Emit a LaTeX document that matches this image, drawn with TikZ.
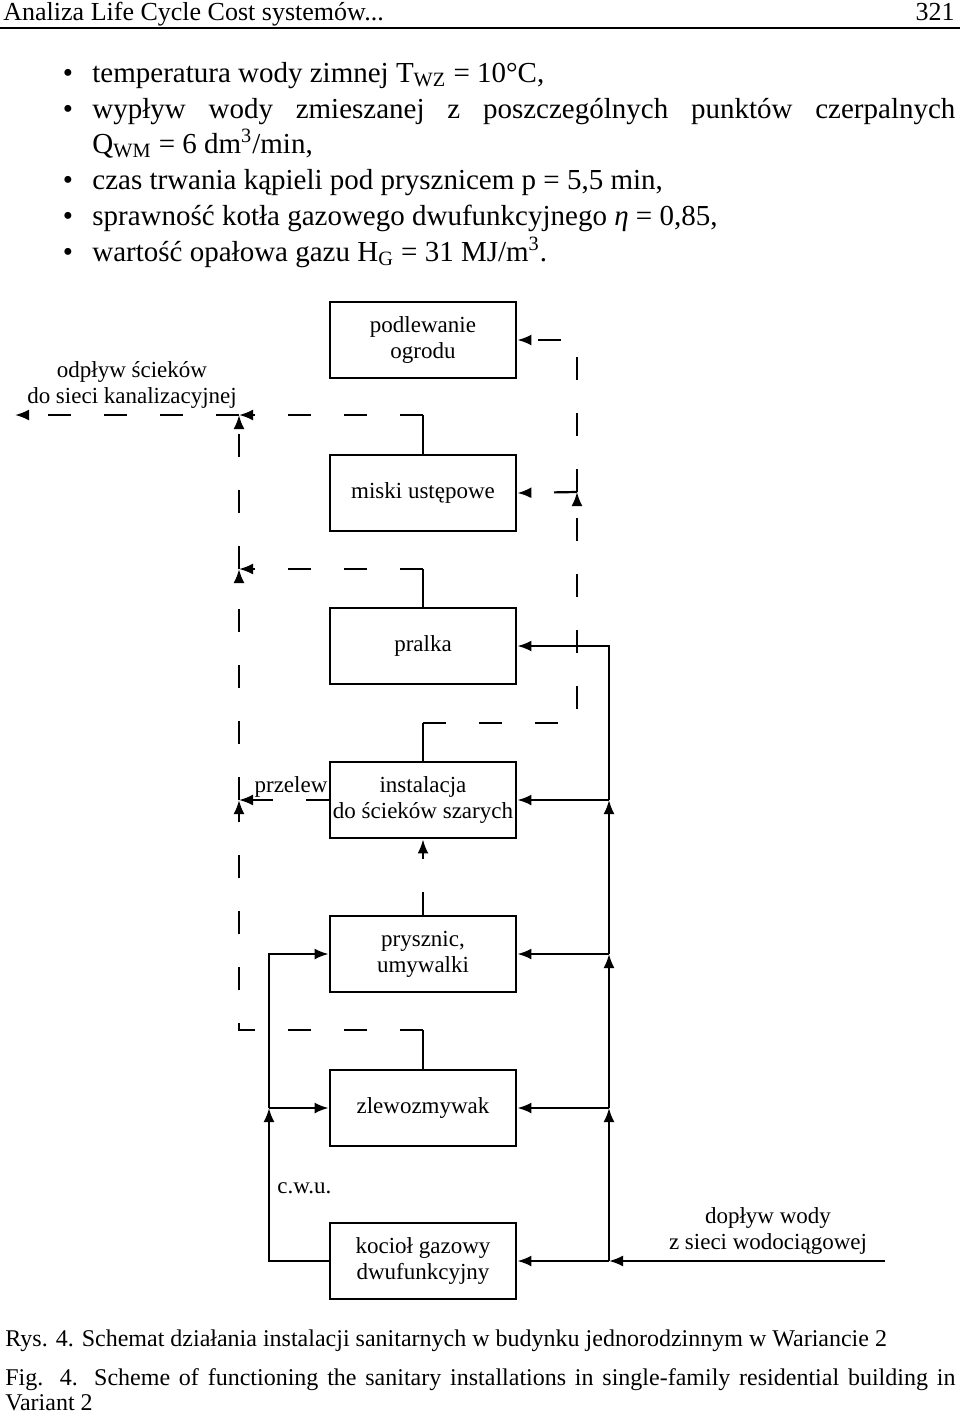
\documentclass[tikz,border=0pt]{standalone}
\usepackage{fontspec}
\setmainfont{Liberation Serif}
\usetikzlibrary{arrows.meta,positioning,calc}

\begin{document}
\begin{tikzpicture}[x=0.5pt,y=-0.5pt,
		blok/.style={draw,line width=1.4pt,minimum width=93pt,minimum height=38pt,inner sep=0pt,align=center,font=\fontsize{11.5}{13}\selectfont},
		rura/.style={line width=1.1pt,-{Latex[length=7pt,width=5.5pt]}},
		stub/.style={line width=1.1pt},
		scieki/.style={line width=1.1pt,dash pattern=on 11.5pt off 16.5pt,-{Latex[length=7pt,width=5.5pt]}},
		opis/.style={align=center,font=\fontsize{11.5}{13}\selectfont},
		tekst/.style={inner sep=0pt,font=\fontsize{14.5}{17.5}\selectfont},
		podpis/.style={inner sep=0pt,font=\fontsize{12}{12.5}\selectfont}]
		\useasboundingbox (0,0) rectangle (960,1414);
		% naglowek strony
		\node[tekst,anchor=base west,font=\fontsize{13}{15}\selectfont] (naglowek) at (3,20) {Analiza Life Cycle Cost systemów...};
		\node[tekst,anchor=base east,font=\fontsize{13}{15}\selectfont] (strona) at (955,20) {321};
		\draw[line width=1pt] (0,28) -- (960,28);
		% zalozenia
		\foreach \y in {82,118,189,225,261}
			\node[tekst,anchor=base] (kropka\y) at (68,\y) {\textbullet};
		\node[tekst,anchor=base west] (w1) at (92,82) {temperatura wody zimnej T\textsubscript{WZ} = 10°C,};
		\node[tekst,anchor=base west] (w2) at (92,118) {\makebox[431.5pt][s]{wypływ wody zmieszanej z poszczególnych punktów czerpalnych}};
		\node[tekst,anchor=base west] (w3) at (92,153) {Q\textsubscript{WM} = 6 dm\textsuperscript{3}/min,};
		\node[tekst,anchor=base west] (w4) at (92,189) {czas trwania kąpieli pod prysznicem p = 5,5 min,};
		\node[tekst,anchor=base west] (w5) at (92,225) {sprawność kotła gazowego dwufunkcyjnego \textit{η} = 0,85,};
		\node[tekst,anchor=base west] (w6) at (92,261) {wartość opałowa gazu H\textsubscript{G} = 31 MJ/m\textsuperscript{3}.};
		% skrzynki
		\node[blok] (podl) at (423,340) {podlewanie\\ogrodu};
		\node[blok] (miski) at (423,493) {miski ustępowe};
		\node[blok] (pralka) at (423,646) {pralka};
		\node[blok] (inst) at (423,800) {instalacja\\do ścieków szarych};
		\node[blok] (prysz) at (423,954) {prysznic,\\umywalki};
		\node[blok] (zlew) at (423,1108) {zlewozmywak};
		\node[blok] (kociol) at (423,1261) {kocioł gazowy\\dwufunkcyjny};
		% woda z wodociagu
		\coordinate (wej) at (885,1261);
		\coordinate (jk) at (609,1261);
		\coordinate (jz) at (609,1108);
		\coordinate (jp) at (609,954);
		\coordinate (ji) at (609,800);
		\draw[rura] (wej) -- (jk);
		\draw[rura] (jk) -- (kociol.east);
		\draw[rura] (jk) -- (jz);
		\draw[rura] (jz) -- (zlew.east);
		\draw[rura] (jz) -- (jp);
		\draw[rura] (jp) -- (prysz.east);
		\draw[rura] (jp) -- (ji);
		\draw[rura] (ji) -- (inst.east);
		\draw[rura] (ji) |- (pralka.east);
		\node[opis] (dopl) at (768,1231) {dopływ wody\\z sieci wodociągowej};
		% c.w.u.
		\coordinate (hz) at (269,1108);
		\draw[rura] (kociol.west) -| (hz);
		\draw[rura] (hz) -- (zlew.west);
		\draw[rura] (hz) |- (prysz.west);
		\node[opis,anchor=west,inner sep=0pt] (cwu) at (277,1188) {c.w.u.};
		% scieki szare
		\coordinate (is) at (423,723);
		\coordinate (pm) at (577,492);
		\draw[scieki] (prysz.north) -- (inst.south);
		\draw[stub] (inst.north) -- (is);
		\draw[scieki] (is) -| (pm);
		\draw[scieki] (pm) -- (miski.east);
		\draw[scieki] (pm) |- (podl.east);
		% odplyw do kanalizacji
		\coordinate (mk) at (423,415);
		\coordinate (pk) at (423,569);
		\coordinate (zk) at (423,1030);
		\coordinate (lm) at (239,415);
		\coordinate (lp) at (239,569);
		\coordinate (li) at (239,800);
		\coordinate (wyj) at (15,415);
		\draw[stub] (miski.north) -- (mk);
		\draw[scieki] (mk) -- (lm);
		\draw[stub] (pralka.north) -- (pk);
		\draw[scieki] (pk) -- (lp);
		\draw[stub] (zlew.north) -- (zk);
		\draw[scieki] (zk) -| (li);
		\draw[scieki] (li) -- (lp);
		\draw[scieki] (lp) -- (lm);
		\draw[scieki] (inst.west) -- (li);
		\draw[scieki] (lm) -- (wyj);
		\node[opis] (przelew) at (291,787) {przelew};
		\node[opis] (odpl) at (132,385) {odpływ ścieków\\do sieci kanalizacyjnej};
		% podpis
		\node[podpis,anchor=base west] (rys) at (5,1346) {Rys. 4. Schemat działania instalacji sanitarnych w budynku jednorodzinnym w Wariancie 2};
		\node[podpis,anchor=base west] (fig) at (5,1385) {\makebox[475pt][s]{Fig. 4. Scheme of functioning the sanitary installations in single-family residential building in}};
		\node[podpis,anchor=base west] (var) at (5,1410) {Variant 2};
\end{tikzpicture}
\end{document}
